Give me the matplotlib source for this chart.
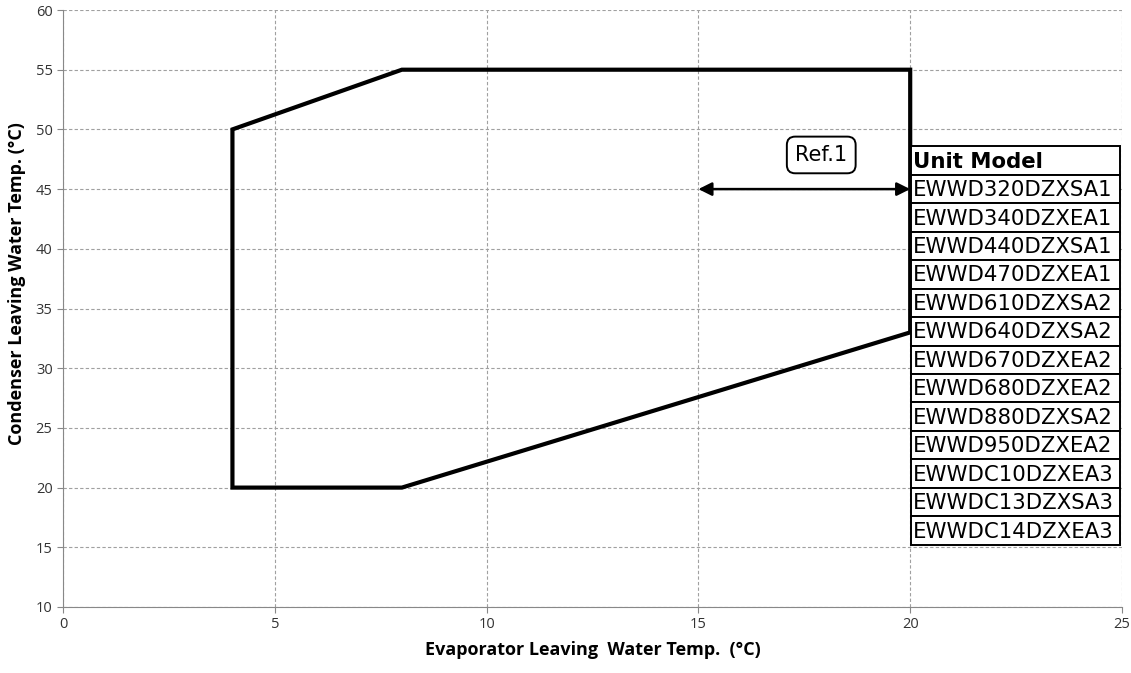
import matplotlib.pyplot as plt
from matplotlib.patches import Rectangle

# operating envelope (evaporator LWT, condenser LWT)
envelope_x = [4, 4, 8, 20, 20, 8]
envelope_y = [20, 50, 55, 55, 33, 20]

# Ref.1 arrow span
ref_x = [15, 20]
ref_y = 45
ref_label = "Ref.1"

table_header = "Unit Model"
unit_models = [
    "EWWD320DZXSA1", "EWWD340DZXEA1", "EWWD440DZXSA1", "EWWD470DZXEA1",
    "EWWD610DZXSA2", "EWWD640DZXSA2", "EWWD670DZXEA2", "EWWD680DZXEA2",
    "EWWD880DZXSA2", "EWWD950DZXEA2", "EWWDC10DZXEA3", "EWWDC13DZXSA3",
    "EWWDC14DZXEA3",
]

xticks = [0, 5, 10, 15, 20, 25]
yticks = [10, 15, 20, 25, 30, 35, 40, 45, 50, 55, 60]

fig = plt.figure(figsize=(11.31, 6.73), dpi=100)
ax = fig.add_axes([63 / 1131, 1 - 607 / 673, (1122 - 63) / 1131, (607 - 10) / 673])

ax.set_xlim(0, 25)
ax.set_ylim(10, 60)
ax.set_xticks(xticks)
ax.set_yticks(yticks)
ax.grid(True, color="#a0a0a0", linestyle=(0, (3, 2)), linewidth=0.8)
ax.set_axisbelow(True)
for s in ["top", "right"]:
    ax.spines[s].set_visible(False)
for s in ["left", "bottom"]:
    ax.spines[s].set_color("#888888")
ax.tick_params(colors="#888888", labelcolor="#333333", labelsize=10.5, length=4)
for lbl in ax.get_xticklabels() + ax.get_yticklabels():
    lbl.set_family("Open Sans")

# closed envelope outline
ax.fill(envelope_x, envelope_y, fill=False, edgecolor="black", linewidth=3,
        joinstyle="miter", zorder=3)

# Ref.1 arrow and label
ax.annotate("", xy=(ref_x[0], ref_y), xytext=(ref_x[1], ref_y),
            arrowprops=dict(arrowstyle="<|-|>", color="black", lw=1.8,
                            mutation_scale=20, shrinkA=0, shrinkB=0), zorder=4)
ax.text(17.9, 47.86, ref_label, fontsize=15, ha="center", va="center",
        family="DejaVu Sans",
        bbox=dict(boxstyle="round,pad=0.4,rounding_size=0.4", fc="white", ec="black", lw=1.4),
        zorder=5)

# unit model table
tab_left, tab_right = 20.01, 24.96
tab_top, tab_bottom = 48.6, 15.2
rows = [table_header] + unit_models
row_h = (tab_top - tab_bottom) / len(rows)
for i, name in enumerate(rows):
    y0 = tab_top - (i + 1) * row_h
    ax.add_patch(Rectangle((tab_left, y0), tab_right - tab_left, row_h,
                           fc="white", ec="black", lw=1.4, zorder=5))
    ax.text(tab_left + 0.06, y0 + row_h / 2 - 0.1, name, fontsize=15.3, ha="left", va="center",
            family="DejaVu Sans", fontweight="bold" if i == 0 else "normal", zorder=6)

ax.set_xlabel("Evaporator Leaving  Water Temp.  (°C)", fontsize=13, fontweight="bold",
              family="Open Sans")
ax.xaxis.set_label_coords(0.5, -0.057)
ax.set_ylabel("Condenser Leaving Water Temp. (°C)", fontsize=13, fontweight="bold",
              family="Open Sans")
ax.yaxis.set_label_coords(-0.035, 0.542)

fig.savefig("out.png", dpi=100)
